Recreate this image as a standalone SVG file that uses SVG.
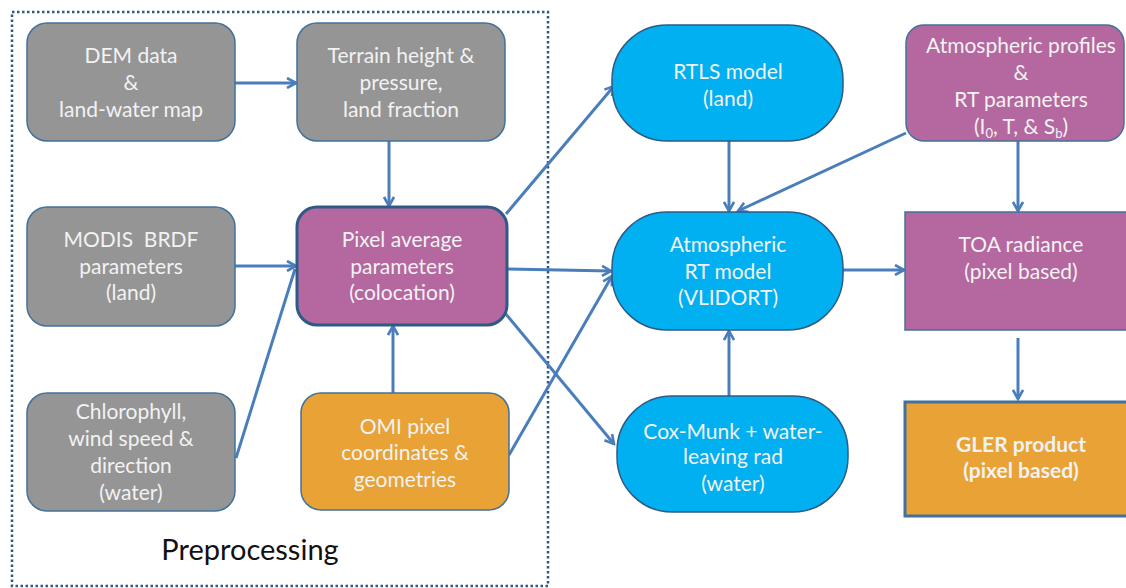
<svg xmlns="http://www.w3.org/2000/svg" width="1126" height="588" viewBox="0 0 1126 588">
<defs>
<marker id="ah" viewBox="0 0 12 12" refX="10" refY="6" markerWidth="12" markerHeight="12" markerUnits="userSpaceOnUse" orient="auto">
<path d="M1,1 L10,6 L1,11" fill="none" stroke="#4a7ebb" stroke-width="2.6" stroke-linejoin="miter"/>
</marker>
<style>
.t{font-family:Lato,"Open Sans","Liberation Sans",sans-serif;font-size:21px;fill:#f2f2f2;text-anchor:middle;white-space:pre}
.b{font-weight:bold}
.gray{fill:#959595;stroke:#41719c;stroke-width:1.5}
.pur{fill:#b4689f;stroke:#41719c;stroke-width:1.5}
.org{fill:#e8a236;stroke:#41719c;stroke-width:1.5}
.blu{fill:#00b0f0;stroke:#2f5a86;stroke-width:1.5}
.c{stroke:#4a7ebb;stroke-width:3;fill:none;marker-end:url(#ah)}
.n{stroke:#4a7ebb;stroke-width:3;fill:none}
</style>
</defs>
<rect width="1126" height="588" fill="#ffffff"/>
<rect x="12" y="12" width="536" height="574" fill="none" stroke="#2f5a86" stroke-width="2.5" stroke-dasharray="2.5 2.5"/>
<text x="250" y="560" style="font-family:Lato,'Open Sans','Liberation Sans',sans-serif;font-size:29px;fill:#111;text-anchor:middle">Preprocessing</text>

<g id="connectors">
<line class="c" x1="235" y1="83" x2="296" y2="83"/>
<line class="c" x1="389" y1="141" x2="389" y2="206"/>
<line class="c" x1="235" y1="266" x2="296" y2="266"/>
<line class="n" x1="236" y1="458" x2="295" y2="269"/>
<line class="c" x1="393" y1="393" x2="393" y2="326"/>
<line class="c" x1="506" y1="214" x2="614" y2="86"/>
<line class="c" x1="507" y1="269" x2="611" y2="271"/>
<line class="c" x1="505" y1="313" x2="614" y2="444"/>
<line class="c" x1="509" y1="455" x2="612" y2="276"/>
<line class="c" x1="729" y1="141" x2="729" y2="211"/>
<line class="c" x1="906" y1="133" x2="738" y2="211"/>
<line class="c" x1="843" y1="270" x2="904" y2="270"/>
<line class="c" x1="729" y1="396" x2="729" y2="331"/>
<line class="c" x1="1018" y1="141" x2="1018" y2="211"/>
<line class="c" x1="1018" y1="338" x2="1018" y2="399"/>
</g>

<g id="dem"><rect class="gray" x="27" y="23" width="208" height="118" rx="20"/>
<text class="t" x="131" y="63">DEM data</text><text class="t" x="131" y="90">&amp;</text><text class="t" x="131" y="117">land-water map</text></g>

<g id="terrain"><rect class="gray" x="297" y="23" width="208" height="118" rx="20"/>
<text class="t" x="401" y="63">Terrain height &amp;</text><text class="t" x="401" y="90">pressure,</text><text class="t" x="401" y="117">land fraction</text></g>

<g id="modis"><rect class="gray" x="27" y="207" width="208" height="119" rx="20"/>
<text class="t" x="131" y="247">MODIS  BRDF</text><text class="t" x="131" y="274">parameters</text><text class="t" x="131" y="300">(land)</text></g>

<g id="pixel"><rect x="297" y="207" width="210" height="118" rx="20" fill="#b4689f" stroke="#2f5a86" stroke-width="3"/>
<text class="t" x="402" y="247">Pixel average</text><text class="t" x="402" y="274">parameters</text><text class="t" x="402" y="300">(colocation)</text></g>

<g id="chloro"><rect class="gray" x="27" y="393" width="208" height="118" rx="20"/>
<text class="t" x="131" y="419">Chlorophyll,</text><text class="t" x="131" y="446">wind speed &amp;</text><text class="t" x="131" y="473">direction</text><text class="t" x="131" y="500">(water)</text></g>

<g id="omi"><rect class="org" x="301" y="393" width="208" height="117" rx="20"/>
<text class="t" x="405" y="434">OMI pixel</text><text class="t" x="405" y="460">coordinates &amp;</text><text class="t" x="405" y="487">geometries</text></g>

<g id="rtls"><rect class="blu" x="612" y="25" width="231" height="116" rx="55"/>
<text class="t" x="728" y="79">RTLS model</text><text class="t" x="728" y="106">(land)</text></g>

<g id="atmrt"><rect class="blu" x="612" y="212" width="231" height="118" rx="55"/>
<text class="t" x="728" y="252">Atmospheric</text><text class="t" x="728" y="279">RT model</text><text class="t" x="728" y="305">(VLIDORT)</text></g>

<g id="coxmunk"><rect class="blu" x="617" y="396" width="231" height="116" rx="55"/>
<text class="t" x="733" y="439">Cox-Munk + water-</text><text class="t" x="733" y="464">leaving rad</text><text class="t" x="733" y="491">(water)</text></g>

<g id="atmprof"><rect class="pur" x="906" y="25" width="218" height="116" rx="18"/>
<text class="t" x="1021" y="53">Atmospheric profiles</text><text class="t" x="1021" y="80">&amp;</text><text class="t" x="1021" y="107">RT parameters</text><text class="t" x="1021" y="134">(I<tspan font-size="13" dy="4">0</tspan><tspan dy="-4">, T, &amp; S</tspan><tspan font-size="13" dy="4">b</tspan><tspan dy="-4">)</tspan></text></g>

<g id="toa"><rect class="pur" x="905" y="212" width="225" height="118"/>
<text class="t" x="1021" y="252">TOA radiance</text><text class="t" x="1021" y="279">(pixel based)</text></g>

<g id="gler"><rect x="905" y="402" width="225" height="114" fill="#e8a236" stroke="#41719c" stroke-width="3"/>
<text class="t b" x="1021" y="452">GLER product</text><text class="t b" x="1021" y="478">(pixel based)</text></g>
</svg>
